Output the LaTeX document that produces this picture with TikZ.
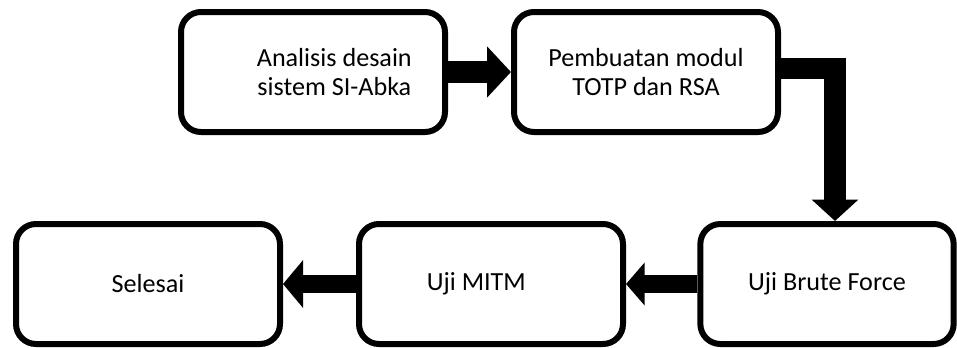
\documentclass[tikz,border=0pt]{standalone}
\usepackage{fontspec}
\setmainfont{Carlito}
\usetikzlibrary{arrows.meta}
\usetikzlibrary{positioning}

\tikzset{
  stepbox/.style={draw, line width=4.5pt, rounded corners=15pt, minimum width=198pt,
    minimum height=90pt, align=center, font=\fontsize{19.6}{21.5}\selectfont},
  bigarrow/.style={line width=17pt, -{Triangle[length=18pt,width=37.5pt]}},
  smallarrow/.style={line width=14pt, -{Triangle[length=15pt,width=35pt]}}
}

\begin{document}
\begin{tikzpicture}[x=0.75pt,y=-0.75pt]
    \useasboundingbox (0,0) rectangle (957,347);
    % top row
    \node[stepbox] (analisis) at (313,72) {\hspace*{32pt}Analisis desain\\\hspace*{32pt}sistem SI-Abka};
    \node[stepbox] (modul) at (646,72) {Pembuatan modul\\TOTP dan RSA};
    % bottom row
    \node[stepbox, minimum width=190pt] (brute) at (827,284) {Uji Brute Force};
    \node[stepbox] (mitm) at (491,284) {Uji MITM\hspace*{22pt}};
    \node[stepbox] (selesai) at (148,284) {Selesai};

    \draw[bigarrow] (analisis) -- (modul);
    \draw[bigarrow, line width=16pt, line join=miter, -{Triangle[length=16pt,width=34pt]}]
        ([yshift=2.5pt]modul.east) -| ([xshift=6pt]brute.north);
    \draw[smallarrow, line width=13pt, -{Triangle[length=14pt,width=31.5pt]}] (brute) -- (mitm);
    \draw[smallarrow] (mitm) -- (selesai);
\end{tikzpicture}
\end{document}
